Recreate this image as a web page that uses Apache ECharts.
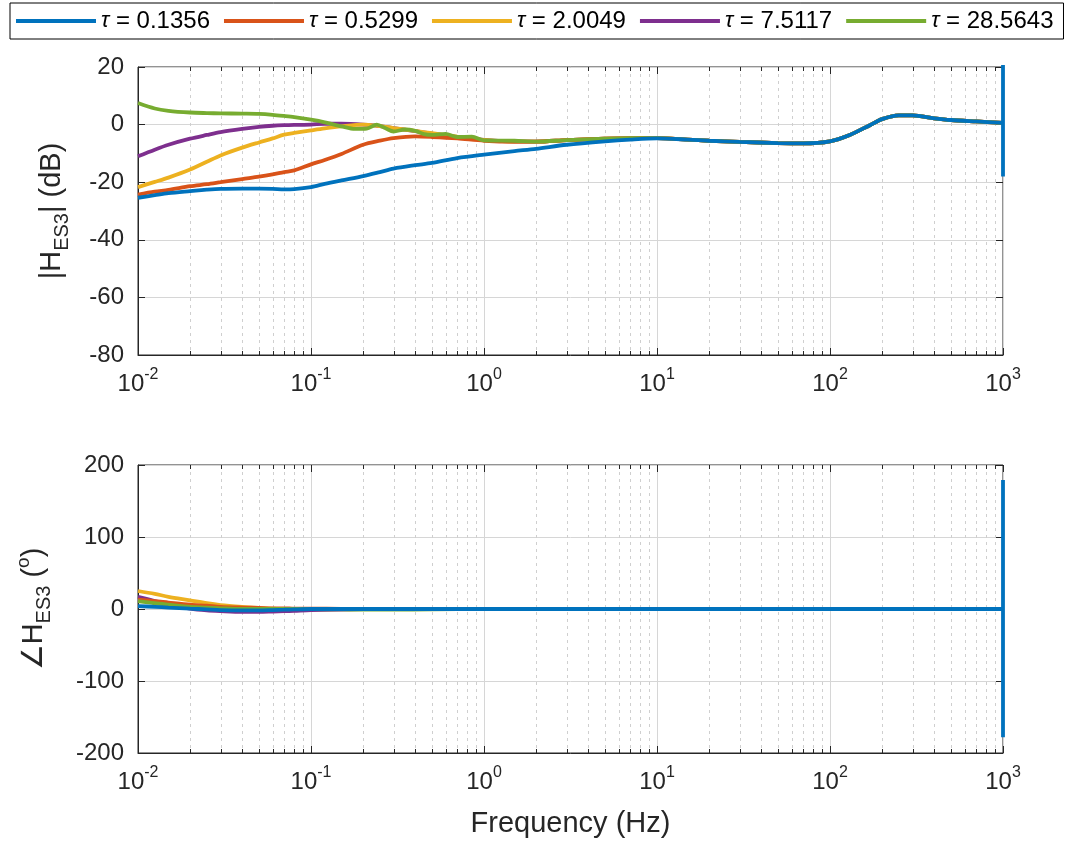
<!DOCTYPE html>
<html><head><meta charset="utf-8">
<script src="https://cdn.jsdelivr.net/npm/echarts@6/dist/echarts.min.js"></script>
<style>html,body{margin:0;padding:0;background:#fff}#c{width:1077px;height:845px}</style>
</head><body><div id="c"></div>
<script>
// ---------- data ----------
const names = ['τ = 0.1356', 'τ = 0.5299', 'τ = 2.0049', 'τ = 7.5117', 'τ = 28.5643'];
const colors = ['#0072BD', '#D95319', '#EDB120', '#7E2F8E', '#77AC30'];

// magnitude (dB)
const freqLow = [0.01, 0.0125, 0.015, 0.02, 0.025, 0.03, 0.04, 0.05, 0.06, 0.07, 0.08, 0.1,
  0.12, 0.15, 0.2, 0.25, 0.3, 0.4, 0.5, 0.7, 1, 1.5, 2, 3, 5, 7, 10];
const freqHigh = [15, 20, 30, 50, 70, 100, 130, 170, 200, 250, 300, 400, 500, 700, 1000];
const magHigh = [-5.2, -5.6, -6.0, -6.4, -6.5, -5.8, -3.6, -0.2, 1.9, 3.2, 3.2, 2.2, 1.6, 1.1, 0.6];

const blueMag = [-25.4, -24.5, -23.8, -23.1, -22.6, -22.3, -22.2, -22.2, -22.3, -22.5, -22.4, -21.7,
  -20.6, -19.4, -17.9, -16.5, -15.3, -14.1, -13.3, -11.6, -10.4, -9.2, -8.4, -7.0, -5.8, -5.2, -4.8];
const orangeMag = [-24.3, -23.3, -22.7, -21.4, -20.7, -20.0, -18.9, -18.1, -17.3, -16.5, -15.9, -13.8,
  -12.3, -10.2, -7.0, -5.6, -4.7, -4.1, -4.3, -4.8, -5.6, -5.9, -5.9, -5.4, -4.9, -4.7, -4.7];
const yellowMag = [-21.7, -19.9, -18.4, -15.6, -12.9, -10.7, -8.0, -6.2, -4.8, -3.5, -2.9, -2.0,
  -1.3, -0.6, 0.0, -0.5, -1.2, -2.2, -3.0, -4.2, -5.3, -5.9, -5.9, -5.4, -4.9, -4.7, -4.7];
const purpleMag = [-11.0, -8.7, -7.0, -4.9, -3.6, -2.6, -1.5, -0.8, -0.4, -0.2, -0.1, 0.0,
  0.3, 0.3, 0.0, -0.5, -1.2, -2.3, -3.1, -4.3, -5.3, -5.9, -5.9, -5.4, -4.9, -4.7, -4.7];
const freqGreen = [0.01, 0.0125, 0.015, 0.02, 0.025, 0.03, 0.04, 0.05, 0.06, 0.07, 0.08, 0.1,
  0.12, 0.15, 0.18, 0.21, 0.24, 0.27, 0.3, 0.35, 0.4, 0.45, 0.5, 0.6, 0.7, 0.85, 1,
  1.5, 2, 3, 5, 7, 10];
const greenMag = [7.5, 5.6, 4.8, 4.2, 4.0, 3.9, 3.8, 3.7, 3.4, 3.0, 2.6, 1.7,
  0.8, -0.6, -1.5, -1.4, 0.0, -1.3, -2.4, -1.7, -2.2, -3.3, -3.6, -3.2, -4.3, -4.2, -5.5,
  -5.6, -5.9, -5.4, -4.9, -4.7, -4.7];
// vertical excursion of the first curve at the last frequency
const spikeFreq = [1000, 1000, 1000];
const spikeMag = [0.6, 30, -18];

// phase (degrees)
const freqPh = [0.01, 0.0125, 0.015, 0.02, 0.025, 0.03, 0.04, 0.05, 0.06, 0.07, 0.08, 0.1,
  0.15, 0.2, 0.3, 0.5, 1, 2, 5, 10, 20, 50, 100, 200, 500, 1000];
const bluePh   = [4, 3, 2, 0.5, -0.5, -1.5, -2, -2, -1.5, -1, -0.5, 0, 0, 0, 0, 0, 0, 0, 0, 0, 0, 0, 0, 0, 0, 0];
const orangePh = [13, 11, 9, 6, 4.5, 3, 2, 1.5, 1, 1, 0.5, 0.5, 0.3, 0, 0, 0, 0, 0, 0, 0, 0, 0, 0, 0, 0, 0];
const yellowPh = [25, 21, 17, 12, 8, 5.5, 3, 1.5, 0.5, 0, 0, 0, 0, 0, 0, 0, 0, 0, 0, 0, 0, 0, 0, 0, 0, 0];
const purplePh = [17, 11, 6, 0.5, -2, -3, -4, -4, -3.5, -3, -2.5, -1.5, -0.8, -0.3, 0, 0, 0, 0, 0, 0, 0, 0, 0, 0, 0, 0];
const greenPh  = [11, 8, 6, 3, 2, 1, 0, 0, 0, 0, 0, 0, -0.5, -1, -1, -0.5, 0, 0, 0, 0, 0, 0, 0, 0, 0, 0];
const spikePh = [0, 179, -178];

// axis ticks
const magTicks = { min: -80, max: 20, interval: 20 };
const phTicks = { min: -200, max: 200, interval: 100 };
const freqRange = { min: 0.01, max: 1000 };
const minorMultipliers = [2, 3, 4, 5, 6, 7, 8, 9];
const decades = [0.01, 0.1, 1, 10, 100];

// ---------- build ----------
const FONT = "'Liberation Sans', Arial, Helvetica, sans-serif";
const TXT = '#262626';
const zip = (xs, ys) => xs.map((x, i) => [x, ys[i]]);
const minorFreqs = [];
decades.forEach(d => minorMultipliers.forEach(m => minorFreqs.push([d * m, 0])));

const magData = [
  zip(freqLow.concat(freqHigh), blueMag.concat(magHigh)),
  zip(freqLow.concat(freqHigh), orangeMag.concat(magHigh)),
  zip(freqLow.concat(freqHigh), yellowMag.concat(magHigh)),
  zip(freqLow.concat(freqHigh), purpleMag.concat(magHigh)),
  zip(freqGreen.concat(freqHigh), greenMag.concat(magHigh))
];
const phData = [bluePh, orangePh, yellowPh, purplePh, greenPh].map(p => zip(freqPh, p));

const grids = [
  { left: 138, top: 67, width: 865, height: 288, show: true, borderColor: TXT, borderWidth: 1, backgroundColor: '#fff' },
  { left: 138, top: 465, width: 865, height: 288, show: true, borderColor: TXT, borderWidth: 1, backgroundColor: '#fff' }
];

const expLabel = {
  color: TXT, margin: 12, fontFamily: FONT,
  formatter: v => '{b|10}{e|' + Math.round(Math.log10(v)) + '}',
  rich: {
    b: { fontSize: 24, lineHeight: 34, fontFamily: FONT, color: TXT },
    e: { fontSize: 16, lineHeight: 16, verticalAlign: 'top', fontFamily: FONT, color: TXT }
  }
};
function xMain(gi, withName) {
  const a = {
    type: 'log', logBase: 10, gridIndex: gi, min: freqRange.min, max: freqRange.max,
    axisLine: { show: true, onZero: false, lineStyle: { color: TXT, width: 1 } },
    axisTick: { show: true, inside: true, length: 7, lineStyle: { color: TXT } },
    axisLabel: expLabel,
    splitLine: { show: true, lineStyle: { color: '#d6d6d6', width: 1 } },
    minorTick: { show: false }, minorSplitLine: { show: false }
  };
  if (withName) {
    a.name = 'Frequency (Hz)'; a.nameLocation = 'middle'; a.nameGap = 56;
    a.nameTextStyle = { fontSize: 29, color: TXT, fontFamily: FONT };
  }
  return a;
}
function xTop(gi) {
  return { type: 'log', logBase: 10, gridIndex: gi, position: 'top', min: freqRange.min, max: freqRange.max,
    axisLine: { show: false, onZero: false }, axisLabel: { show: false }, splitLine: { show: false },
    axisTick: { show: true, inside: true, length: 7, lineStyle: { color: TXT } } };
}
const subRich = {
  a: { fontSize: 29, lineHeight: 40, fontFamily: FONT, color: TXT },
  s: { fontSize: 20, lineHeight: 20, verticalAlign: 'bottom', fontFamily: FONT, color: TXT },
  e: { fontSize: 19, lineHeight: 19, verticalAlign: 'top', fontFamily: FONT, color: TXT }
};
function yMain(gi, t, name, gap) {
  return {
    type: 'value', gridIndex: gi, min: t.min, max: t.max, interval: t.interval,
    name: name, nameLocation: 'middle', nameGap: gap, nameRotate: 90,
    nameTextStyle: { rich: subRich },
    axisLine: { show: true, onZero: false, lineStyle: { color: TXT } },
    axisTick: { show: true, inside: true, length: 7, lineStyle: { color: TXT } },
    axisLabel: { fontSize: 24, color: TXT, fontFamily: FONT, margin: 14 },
    splitLine: { show: true, lineStyle: { color: '#d6d6d6', width: 1 } }
  };
}
function yRight(gi, t) {
  return { type: 'value', gridIndex: gi, position: 'right', min: t.min, max: t.max, interval: t.interval,
    axisLine: { show: false, onZero: false }, axisLabel: { show: false }, splitLine: { show: false },
    axisTick: { show: true, inside: true, length: 7, lineStyle: { color: TXT } } };
}

function minorRender(params, api) {
  const cs = params.coordSys;
  const x = Math.round(api.coord([api.value(0), 0])[0]) + 0.5;
  const top = cs.y, bot = cs.y + cs.height;
  return { type: 'group', children: [
    { type: 'line', shape: { x1: x, y1: top, x2: x, y2: bot }, style: { stroke: '#cfcfcf', lineWidth: 1, lineDash: [3, 4] } },
    { type: 'line', shape: { x1: x, y1: top, x2: x, y2: top + 4 }, style: { stroke: TXT, lineWidth: 1 } },
    { type: 'line', shape: { x1: x, y1: bot, x2: x, y2: bot - 4 }, style: { stroke: TXT, lineWidth: 1 } }
  ]};
}

const series = [];
[0, 1].forEach(gi => series.push({
  type: 'custom', xAxisIndex: gi, yAxisIndex: gi, data: minorFreqs, renderItem: minorRender,
  silent: true, z: 1, clip: false, encode: { x: 0, y: 1 }
}));
// draw order: purple, yellow, orange, green, blue (blue on top)
const drawOrder = [3, 2, 1, 4, 0];
const LW = 3.8;
drawOrder.forEach(i => {
  series.push({ name: names[i], type: 'line', xAxisIndex: 0, yAxisIndex: 0, data: magData[i],
    showSymbol: false, symbol: 'none', smooth: 0.3, lineStyle: { width: LW, color: colors[i] }, itemStyle: { color: colors[i] }, z: 3, clip: true });
});
series.push({ name: 'spike', type: 'line', xAxisIndex: 0, yAxisIndex: 0, data: zip(spikeFreq, spikeMag),
  showSymbol: false, symbol: 'none', lineStyle: { width: LW, color: colors[0] }, z: 3, clip: true });
drawOrder.forEach(i => {
  series.push({ name: names[i], type: 'line', xAxisIndex: 1, yAxisIndex: 1, data: phData[i],
    showSymbol: false, symbol: 'none', smooth: 0.3, lineStyle: { width: LW, color: colors[i] }, itemStyle: { color: colors[i] }, z: 3, clip: true });
});
series.push({ name: 'spikePh', type: 'line', xAxisIndex: 1, yAxisIndex: 1, data: zip(spikeFreq, spikePh),
  showSymbol: false, symbol: 'none', lineStyle: { width: LW, color: colors[0] }, z: 3, clip: true });

const option = {
  animation: false,
  backgroundColor: '#fff',
  textStyle: { fontFamily: FONT },
  legend: {
    data: names, left: 10, top: 3, orient: 'horizontal',
    icon: 'rect', itemWidth: 80, itemHeight: 4, itemGap: 14,
    borderColor: '#000', borderWidth: 1, padding: [6, 10, 6, 6],
    backgroundColor: '#fff', selectedMode: false,
    formatter: n => '{t|τ}' + n.slice(1),
    textStyle: { fontSize: 24, color: '#000', fontFamily: FONT,
      rich: { t: { fontSize: 22, fontStyle: 'italic', fontFamily: FONT, color: '#000' } } }
  },
  grid: grids,
  xAxis: [xMain(0, false), xMain(1, true), xTop(0), xTop(1)],
  yAxis: [
    yMain(0, magTicks, '{a||H}{s|ES3}{a|| (dB)}', 66),
    yMain(1, phTicks, '{a|∠H}{s|ES3}{a| (}{e|o}{a|)}', 84),
    yRight(0, magTicks), yRight(1, phTicks)
  ],
  series: series
};
const chart = echarts.init(document.getElementById('c'), null, { renderer: 'canvas' });
chart.setOption(option);
</script></body></html>
